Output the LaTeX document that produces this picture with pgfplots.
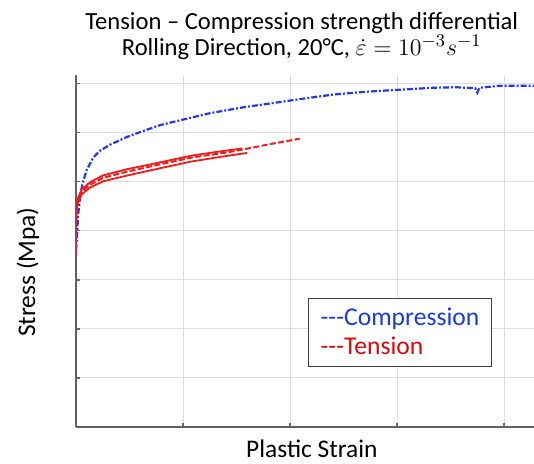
\documentclass[border=0pt]{standalone}
\usepackage{fontspec}
\setmainfont{Carlito}
\usepackage{pgfplots}
\pgfplotsset{compat=1.18}
\definecolor{cblue}{RGB}{35,55,240}
\definecolor{cred}{RGB}{245,25,25}
\definecolor{tblue}{RGB}{25,60,225}
\definecolor{tred}{RGB}{215,10,10}

% compression (blue)
\pgfplotstableread{
x y
0.00 3.61
0.01 3.92
0.02 4.33
0.04 4.73
0.065 5.00
0.10 5.24
0.16 5.49
0.22 5.63
0.32 5.76
0.48 5.92
0.63 6.04
0.79 6.16
1.00 6.27
1.25 6.40
1.56 6.52
1.88 6.62
2.10 6.69
2.40 6.78
2.72 6.84
3.03 6.88
3.34 6.92
3.55 6.93
3.73 6.91
3.75 6.82
3.77 6.92
3.96 6.96
4.28 6.96
}\compr

% tension, three specimens
\pgfplotstableread{
x y
0.00 3.50
0.00 4.02
0.005 4.37
0.01 4.53
0.02 4.63
0.055 4.80
0.13 4.94
0.25 5.08
0.48 5.21
0.79 5.36
1.09 5.50
1.41 5.60
1.63 5.69
1.79 5.76
2.09 5.88
}\tensA
\pgfplotstableread{
x y
0.00 3.55
0.00 4.00
0.005 4.33
0.01 4.49
0.02 4.59
0.055 4.75
0.13 4.88
0.25 5.01
0.48 5.13
0.79 5.28
1.09 5.42
1.41 5.53
1.60 5.59
}\tensB
\pgfplotstableread{
x y
0.00 3.70
0.00 4.06
0.005 4.40
0.01 4.57
0.02 4.68
0.055 4.85
0.13 4.99
0.25 5.13
0.48 5.26
0.79 5.40
1.09 5.54
1.41 5.64
1.55 5.68
}\tensC

\begin{document}
\begin{tikzpicture}
\begin{axis}[
  scale only axis, width=229bp, height=176bp,
  at={(0,0)}, anchor=south west,
  xmin=0, xmax=4.28, ymin=0, ymax=7.18,
  axis x line=bottom, axis y line=left,
  axis line style={-, draw=black!62, line width=0.9bp},
  xtick={1,2,3,4}, ytick={1,2,3,4,5,6,7},
  xticklabels={}, yticklabels={},
  tick align=inside, major tick length=2bp,
  tick style={black!60, line width=0.6bp},
  grid=major, grid style={black!13, line width=0.5bp},
  font=\fontsize{12.7bp}{14bp}\selectfont,
  title={Tension -- Compression strength differential\\Rolling Direction, 20\textdegree C, $\dot{\varepsilon}=10^{-3}s^{-1}$},
  title style={at={(axis description cs:0.493,1)}, anchor=south, yshift=1.5bp,
    align=center, inner sep=0pt, font=\fontsize{12.3bp}{13bp}\selectfont},
  xlabel={Plastic Strain},
  xlabel style={at={(axis description cs:0.515,0)}, anchor=north, yshift=-6bp, inner sep=0pt},
  ylabel={Stress (Mpa)},
  ylabel style={at={(axis description cs:-0.105,0.44)}, anchor=center, inner sep=0pt},
  legend image code/.code={},
  legend style={at={(axis description cs:0.5066,0.3665)}, anchor=north west,
    draw=black!75, line width=0.6bp, inner xsep=5.5bp, inner ysep=4bp,
    nodes={inner sep=0.5bp}, row sep=3.5bp,
    font=\fontsize{12.8bp}{14bp}\selectfont, cells={anchor=west}},
]
\addplot[cblue, line width=1.1bp, dash pattern=on 3bp off 1bp on 1bp off 1bp] table {\compr};
\addlegendentry{\textcolor{tblue}{-{}-{}-Compression}}
\addplot[cred, line width=1bp, dash pattern=on 3bp off 1.2bp] table {\tensA};
\addlegendentry{\textcolor{tred}{-{}-{}-Tension}}
\addplot[cred, line width=0.9bp, forget plot] table {\tensB};
\addplot[cred, line width=0.9bp, forget plot] table {\tensC};
\end{axis}
\pgfresetboundingbox
\path[use as bounding box] (-38bp,-18.5bp) rectangle (229bp,213.5bp);
\end{tikzpicture}
\end{document}
